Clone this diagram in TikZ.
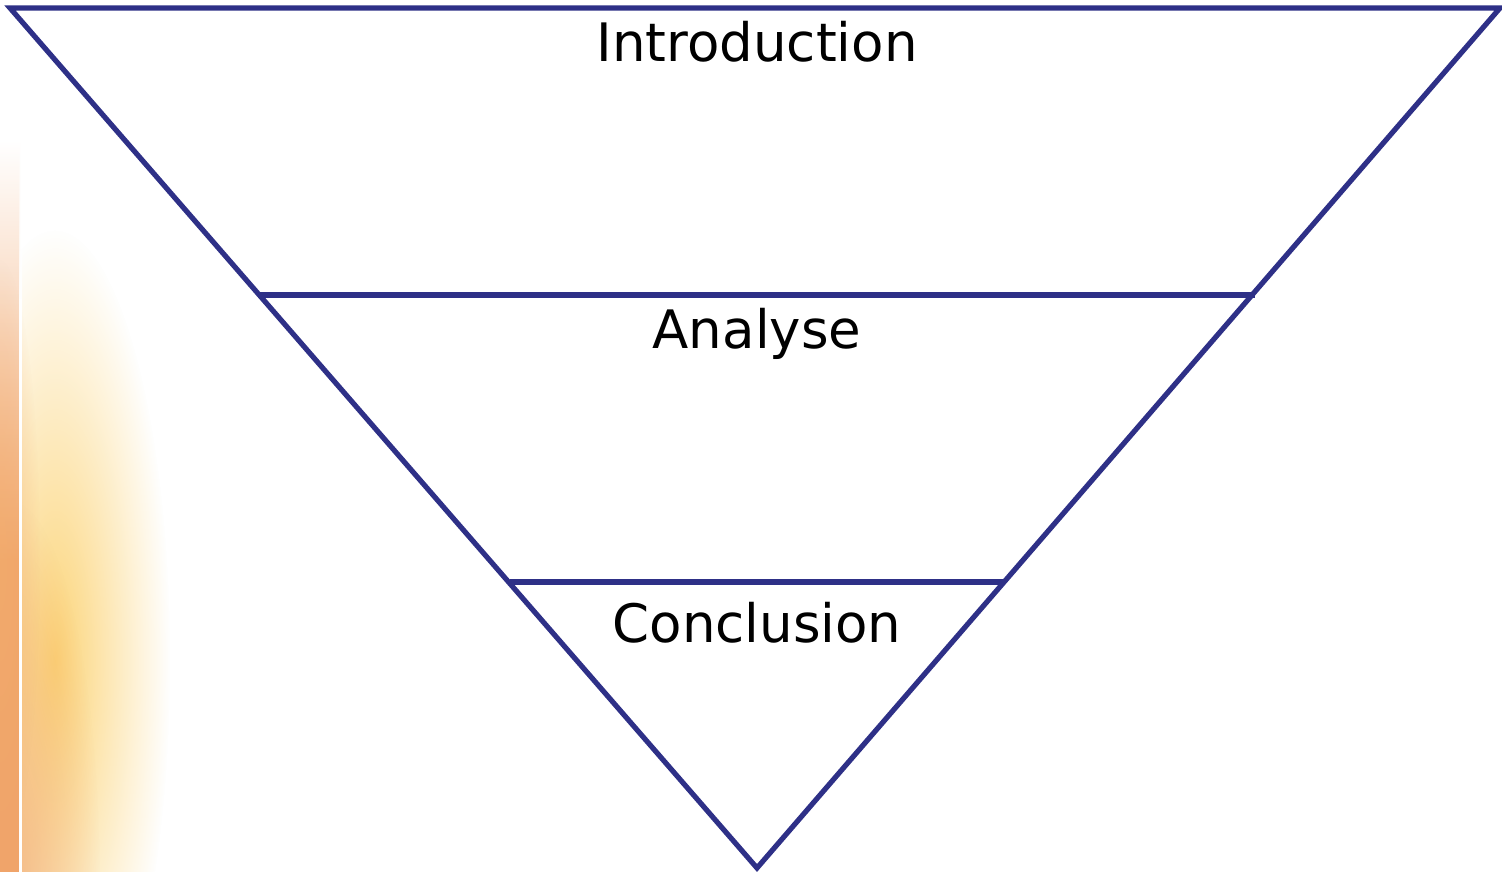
\documentclass[tikz,border=0pt]{standalone}
\usepackage{fontspec}
\setmainfont{DejaVu Sans}
\usetikzlibrary{fadings}
\tikzfading[name=blobfade, inner color=transparent!0, outer color=transparent!100]
\tikzfading[name=topfade, top color=transparent!100, bottom color=transparent!0]
\definecolor{navy}{HTML}{2E3087}
\definecolor{sunyellow}{HTML}{FCD477}
\definecolor{sunorange}{HTML}{F0A46A}
\definecolor{sunpink}{HTML}{F4CFC4}
\begin{document}
\begin{tikzpicture}[x=1pt,y=-1pt,
  lab/.style={font=\fontsize{53}{60}\selectfont, anchor=base, inner sep=0pt},
  edge/.style={draw=navy, line width=5.2pt, line join=miter}]
\useasboundingbox (0,0) rectangle (1502,872);
\fill[white] (0,0) rectangle (1502,872);
% background glow on the left
\begin{scope}
  \clip (0,0) rectangle (1502,872);
  \fill[sunyellow, path fading=blobfade] (55,660) ellipse (115 and 430);
  \fill[sunorange, path fading=blobfade, opacity=0.7] (10,880) ellipse (90 and 380);
  \shade[top color=white, middle color=sunpink, bottom color=sunorange]
    (0,140) rectangle (20,560);
  \fill[sunorange] (0,559) rectangle (20,872);
  \fill[sunorange!80!sunyellow, path fading=blobfade, opacity=0.6] (0,560) ellipse (40 and 300);
\end{scope}
\fill[white, path fading=topfade] (19,100) rectangle (22,300);
\fill[white] (19,299) rectangle (22,872);
% funnel
\coordinate (TL) at (10,8);
\coordinate (TR) at (1500,8);
\coordinate (B) at (757,868);
\coordinate (A1) at (260,295);
\coordinate (A2) at (1255,295);
\coordinate (C1) at (510,582);
\coordinate (C2) at (1005,582);
\draw[edge] (TL) -- (TR) -- (B) -- cycle;
\draw[edge] (A1) -- (A2);
\draw[edge] (C1) -- (C2);
\node[lab] (intro) at (757,62) {Introduction};
\node[lab] (anal) at (757,348) {Analyse};
\node[lab] (concl) at (757,642) {Conclusion};
\end{tikzpicture}
\end{document}
